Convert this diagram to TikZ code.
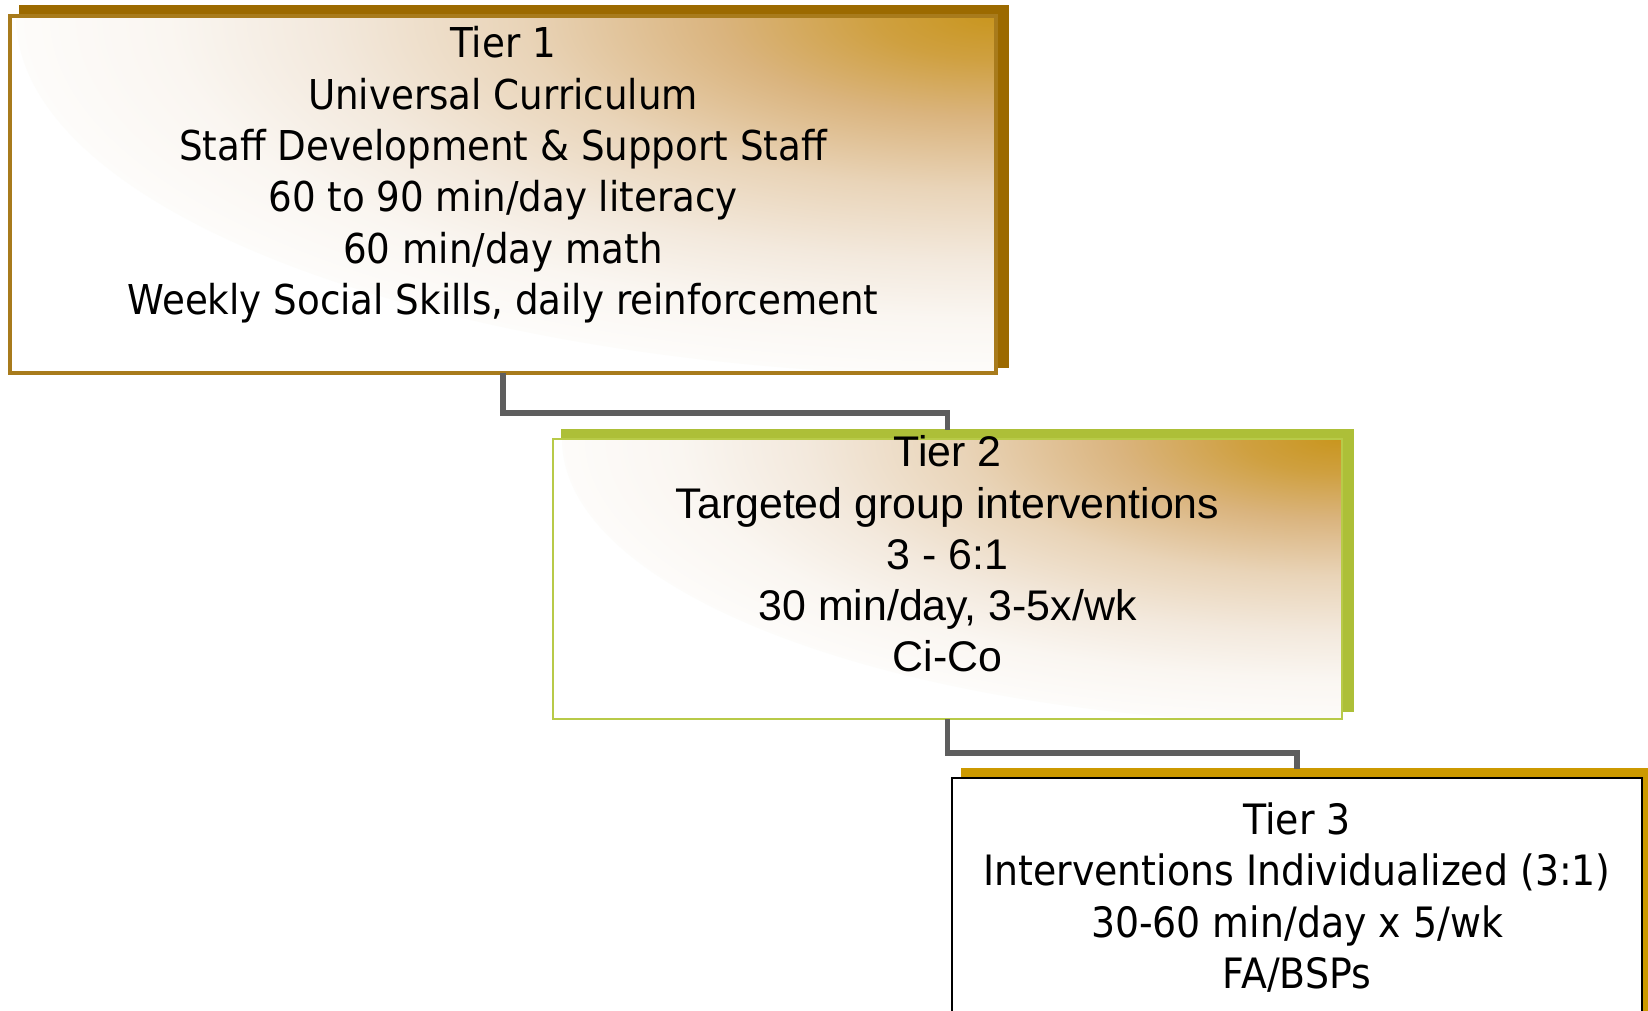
\documentclass[tikz,border=0pt]{standalone}
\usepackage{fontspec}
\newfontfamily\tahomafont[FakeStretch=0.905]{DejaVu Sans}
\newfontfamily\arialfont{Liberation Sans}
\usetikzlibrary{positioning}

\definecolor{goldA}{HTML}{C9961F}
\definecolor{goldB}{HTML}{CFA040}
\definecolor{goldC}{HTML}{DAB47E}
\definecolor{goldD}{HTML}{E9D4B8}
\definecolor{goldE}{HTML}{F3E9DD}
\definecolor{goldF}{HTML}{FAF6F1}
\definecolor{brownsh}{HTML}{9C6A00}
\definecolor{brownln}{HTML}{A87B1C}
\definecolor{limesh}{HTML}{ADBF38}
\definecolor{limeln}{HTML}{B8CA48}
\definecolor{ambersh}{HTML}{CC9900}
\definecolor{connline}{HTML}{5E5E5E}

\pgfdeclareradialshading{tiergold}{\pgfpointorigin}{color(0bp)=(goldA); color(3bp)=(goldB);
  color(7bp)=(goldC); color(12bp)=(goldD); color(17bp)=(goldE); color(21bp)=(goldF);
  color(27bp)=(white); color(50bp)=(white)}

\begin{document}
\begin{tikzpicture}[
    tbox/.style={rectangle, inner sep=0pt, outer sep=0pt, anchor=north west},
    shbox/.style={tbox, fill=#1, draw=#1, line width=0.6pt},
    goldfill/.style 2 args={fill=white, path picture={
        \shade[shading=tiergold] (path picture bounding box.north east) ellipse (#1 and #2);}},
    tahomatxt/.style={align=center, anchor=base, inner sep=0pt,
                      font=\tahomafont\fontsize{11.7}{14.6}\selectfont},
    arialtxt/.style={align=center, anchor=base, inner sep=0pt,
                     font=\arialfont\fontsize{12.2}{14.6}\selectfont},
    conn/.style={draw=connline, line width=1.6pt}
]
\useasboundingbox (0,0) rectangle (16.48,-10.11);
\clip (0,0) rectangle (16.48,-10.11);

% ---- Tier 1 ----
\node[shbox=brownsh, minimum width=9.88cm, minimum height=3.61cm] (t1sh) at (0.20,-0.06) {};
\node[tbox, goldfill={9.8cm}{3.6cm}, draw=brownln, line width=0.9pt,
      minimum width=9.86cm, minimum height=3.57cm] (t1) at (0.10,-0.16) {};
% base = last line
\node[tahomatxt] (t1txt) at (5.03,-3.145) {Tier 1\\Universal Curriculum\\Staff Development \& Support Staff\\
    60 to 90 min/day literacy\\60 min/day math\\Weekly Social Skills, daily reinforcement};

% ---- Tier 2 ----
\node[shbox=limesh, minimum width=7.91cm, minimum height=2.81cm] (t2sh) at (5.62,-4.30) {};
\node[tbox, goldfill={7.8cm}{2.85cm}, draw=limeln, line width=0.8pt,
      minimum width=7.89cm, minimum height=2.80cm] (t2) at (5.53,-4.39) {};
\draw[conn] (t1.south) -- ++(0,-0.40) -| (t2.north |- t2sh.north);
\node[arialtxt] (t2txt) at (9.475,-6.72) {Tier 2\\Targeted group interventions\\3 - 6:1\\
    30 min/day, 3-5x/wk\\Ci-Co};

% ---- Tier 3 ----
\node[shbox=ambersh, minimum width=7.10cm, minimum height=2.50cm] (t3sh) at (9.62,-7.69) {};
\node[tbox, fill=white, draw=black, line width=0.8pt,
      minimum width=6.90cm, minimum height=2.42cm] (t3) at (9.52,-7.78) {};
\draw[conn] (t2.south) -- ++(0,-0.34) -| (t3.north |- t3sh.north);
\node[tahomatxt, font=\tahomafont\fontsize{11.9}{14.6}\selectfont] (t3txt) at (12.97,-9.884)
    {Tier 3\\Interventions Individualized (3:1)\\30-60 min/day x 5/wk\\FA/BSPs};

\end{tikzpicture}
\end{document}
